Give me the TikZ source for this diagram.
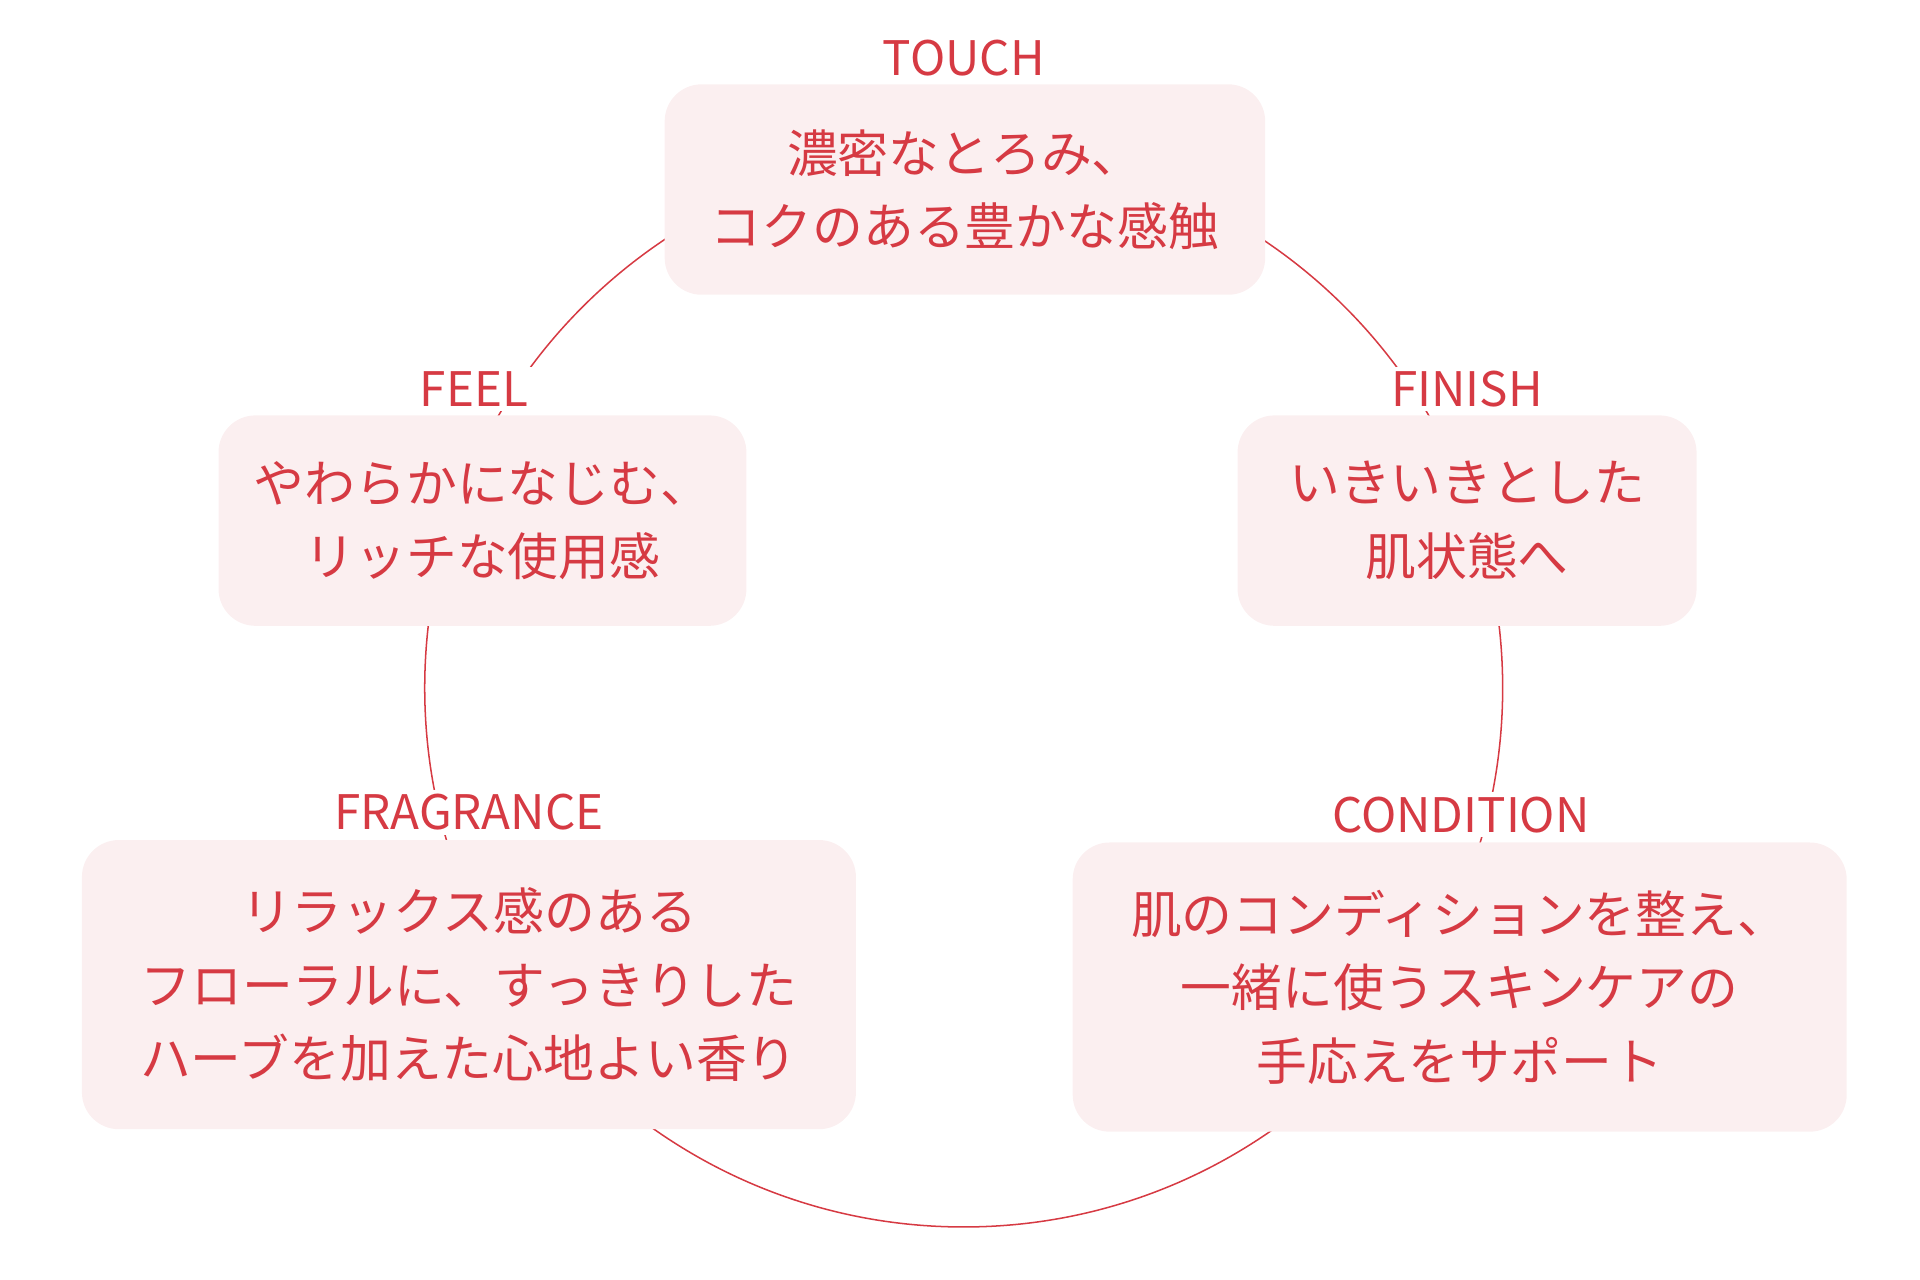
\documentclass[tikz,border=0pt]{standalone}
\usepackage{fontspec}
\setmainfont{Noto Sans CJK JP}
\definecolor{tred}{HTML}{D63A43}
\definecolor{tpink}{HTML}{FBEFF0}
\begin{document}
\begin{tikzpicture}[x=0.02cm,y=-0.02cm,
  box/.style={fill=tpink,rounded corners=0.6cm,text=tred,font=\fontsize{23.5}{34}\selectfont,align=center,inner sep=0pt},
  lab/.style={fill=white,text=tred,font=\fontsize{22}{26}\selectfont,inner sep=2pt}]
\useasboundingbox (0,0) rectangle (1560,1040);
\node[draw=tred,line width=0.7pt,circle,minimum size=17.52cm,inner sep=0,outer sep=0] (c) at (783,559) {};
\node[lab] (lt) at (783,47) {TOUCH};
\node[lab] (lf) at (385,316) {FEEL};
\node[lab] (ln) at (1192,316) {FINISH};
\node[lab] (lg) at (381,660) {FRAGRANCE};
\node[lab] (lc) at (1187,662) {CONDITION};
\node[box,minimum width=9.76cm,minimum height=3.42cm] (t) at (784,154) {濃密なとろみ、\\コクのある豊かな感触};
\node[box,minimum width=8.58cm,minimum height=3.42cm] (f) at (392,423) {やわらかになじむ、\\リッチな使用感};
\node[box,minimum width=7.46cm,minimum height=3.42cm] (n) at (1192,423) {いきいきとした\\肌状態へ};
\node[box,minimum width=12.58cm,minimum height=4.7cm] (g) at (381,800) {リラックス感のある\\フローラルに、すっきりした\\ハーブを加えた心地よい香り};
\node[box,minimum width=12.58cm,minimum height=4.7cm] (k) at (1186,802) {肌のコンディションを整え、\\一緒に使うスキンケアの\\手応えをサポート};
\end{tikzpicture}
\end{document}
